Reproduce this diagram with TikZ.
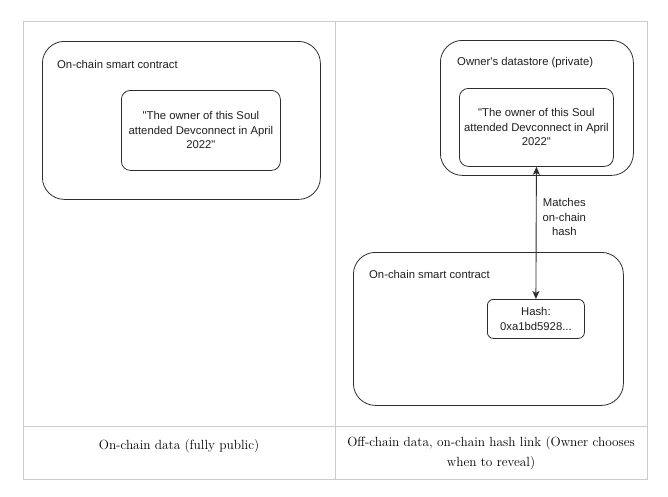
\documentclass[tikz,border=0pt]{standalone}
\usepackage{fontspec}
\newfontfamily\diagfont{Liberation Sans}
\usetikzlibrary{arrows.meta,positioning}
\definecolor{gridGray}{RGB}{204,204,204}
\definecolor{lineDark}{RGB}{45,45,45}
\definecolor{textDark}{RGB}{30,30,30}

\begin{document}
\begin{tikzpicture}[x=1pt, y=-1pt,
  every node/.style={font=\diagfont\fontsize{11.3}{14.5}\selectfont, text=textDark, inner sep=0pt},
  bigbox/.style={draw=lineDark, line width=0.8pt, rounded corners=22pt, anchor=north west},
  quotebox/.style={draw=lineDark, line width=0.8pt, rounded corners=9pt, anchor=north west, align=center},
  boxlabel/.style={anchor=west},
  caption/.style={font=\rmfamily\fontsize{13.3}{20}\selectfont, text=black, align=center},
]
\useasboundingbox (0,0) rectangle (668,496);

% table grid
\draw[gridGray, line width=0.8pt] (23,21) rectangle (647,479);
\draw[gridGray, line width=0.8pt] (335,21) -- (335,479);
\draw[gridGray, line width=0.8pt] (23,426) -- (647,426);

% left column: everything on chain
\node[bigbox, minimum width=278pt, minimum height=158pt] (chainL) at (42,41) {};
\node[boxlabel] (chainLlbl) at (57,64) {On-chain smart contract};
\node[quotebox, minimum width=159pt, minimum height=80pt] (quoteL) at (121,90)
  {"The owner of this Soul\\attended Devconnect in April\\2022"};

% right column: private store + hash on chain
\node[bigbox, minimum width=193pt, minimum height=135pt] (store) at (440,40) {};
\node[boxlabel] (storelbl) at (457,63) {Owner's datastore (private)};
\node[quotebox, minimum width=154pt, minimum height=78pt] (quoteR) at (459,88)
  {"The owner of this Soul\\attended Devconnect in April\\2022"};

\node[bigbox, minimum width=270pt, minimum height=153pt] (chainR) at (353,252) {};
\node[boxlabel] (chainRlbl) at (369,274) {On-chain smart contract};
\node[quotebox, minimum width=97pt, minimum height=39pt, rounded corners=6pt] (hash) at (487,299)
  {Hash:\\0xa1bd5928...};

\draw[{Stealth[length=8pt,width=7pt,inset=2pt]}-{Stealth[length=8pt,width=7pt,inset=2pt]}, lineDark, line width=0.9pt]
  (quoteR.south) -- (hash.north)
  node[pos=0.38, right=6pt, align=center] {Matches\\on-chain\\hash};

% captions
\node[caption] (capL) at (179,446) {On-chain data (fully public)};
\node[caption] (capR) at (491,453) {Off-chain data, on-chain hash link (Owner chooses\\when to reveal)};
\end{tikzpicture}
\end{document}
